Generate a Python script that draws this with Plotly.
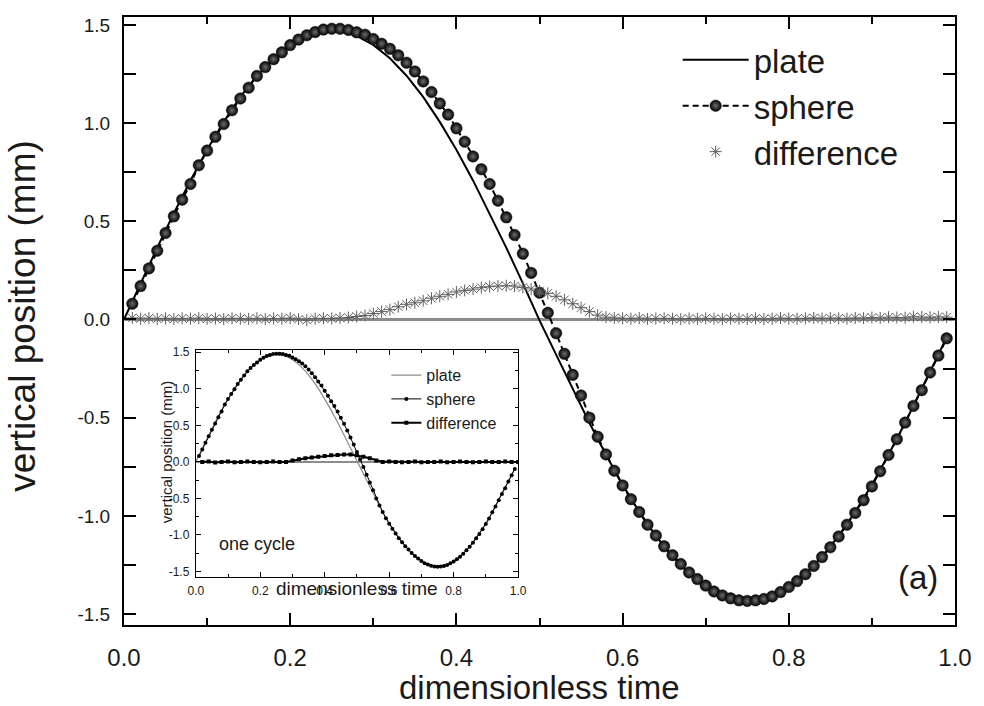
import plotly.graph_objects as go

# ---------------- data ----------------
time_pts = [round(0.01 * k, 2) for k in range(1, 100)]

sphere_mm = [
    0.08, 0.17, 0.26, 0.35, 0.44, 0.525, 0.61, 0.69, 0.785, 0.86,
    0.93, 0.995, 1.065, 1.125, 1.18, 1.24, 1.285, 1.325, 1.36, 1.397,
    1.425, 1.447, 1.463, 1.476, 1.48, 1.48, 1.474, 1.462, 1.45, 1.428,
    1.404, 1.378, 1.345, 1.307, 1.263, 1.212, 1.158, 1.10, 1.043, 0.973,
    0.905, 0.83, 0.765, 0.69, 0.605, 0.52, 0.43, 0.335, 0.237, 0.136,
    0.034, -0.07, -0.175, -0.282, -0.387, -0.50, -0.597, -0.687, -0.77, -0.845,
    -0.915, -0.98, -1.045, -1.10, -1.155, -1.20, -1.245, -1.288, -1.322, -1.355,
    -1.385, -1.405, -1.42, -1.43, -1.433, -1.43, -1.423, -1.41, -1.388, -1.362,
    -1.332, -1.297, -1.255, -1.21, -1.16, -1.105, -1.045, -0.985, -0.92, -0.85,
    -0.773, -0.69, -0.61, -0.525, -0.44, -0.36, -0.27, -0.184, -0.096,
]

difference_mm = [
    0.008, 0.004, 0.007, 0.003, 0.006, 0.002, 0.006, 0.004, 0.007, 0.003,
    0.005, 0.002, 0.006, 0.004, 0.003, 0.006, 0.002, 0.005, 0.004, 0.007,
    0.002, -0.004, 0.004, 0.006, 0.005, 0.008, 0.010, 0.015, 0.020, 0.030,
    0.040, 0.050, 0.065, 0.077, 0.085, 0.095, 0.108, 0.118, 0.128, 0.140,
    0.148, 0.155, 0.162, 0.167, 0.170, 0.172, 0.170, 0.163, 0.155, 0.145,
    0.133, 0.118, 0.100, 0.080, 0.060, 0.040, 0.022, 0.012, 0.008, 0.006,
    0.004, 0.007, 0.003, 0.005, 0.006, 0.004, 0.002, 0.005, 0.003, 0.006,
    0.004, 0.002, 0.005, 0.004, 0.003, 0.006, 0.002, 0.004, 0.007, 0.005,
    0.004, 0.006, 0.008, 0.005, 0.007, 0.006, 0.004, 0.008, 0.007, 0.010,
    0.008, 0.012, 0.010, 0.009, 0.014, 0.012, 0.011, 0.013, 0.012,
]

plate_t = [0.00, 0.02, 0.04, 0.06, 0.08, 0.10, 0.12, 0.14, 0.16, 0.18,
           0.20, 0.22, 0.24, 0.26, 0.28, 0.30, 0.32, 0.34, 0.36, 0.38,
           0.40, 0.42, 0.44, 0.46, 0.48, 0.50, 0.52, 0.54, 0.56, 0.58,
           0.60, 0.62, 0.64, 0.66, 0.68, 0.70, 0.72, 0.74, 0.76, 0.78,
           0.80, 0.82, 0.84, 0.86, 0.88, 0.90, 0.92, 0.94, 0.96, 0.98, 0.99]
plate_mm = [0.0, 0.184, 0.366, 0.541, 0.708, 0.864, 1.006, 1.133, 1.241, 1.330,
            1.398, 1.444, 1.467, 1.467, 1.444, 1.398, 1.330, 1.241, 1.133, 1.006,
            0.864, 0.708, 0.541, 0.366, 0.184, -0.005, -0.179, -0.356, -0.526, -0.689,
            -0.841, -0.979, -1.102, -1.207, -1.294, -1.360, -1.405, -1.427, -1.427, -1.405,
            -1.360, -1.294, -1.207, -1.102, -0.979, -0.841, -0.689, -0.526, -0.356, -0.179, -0.09]

inset_t = [0.02, 0.04, 0.06, 0.08, 0.10, 0.12, 0.14, 0.16, 0.18, 0.20,
           0.22, 0.24, 0.26, 0.28, 0.30, 0.32, 0.34, 0.36, 0.38, 0.40,
           0.42, 0.44, 0.46, 0.48, 0.50, 0.52, 0.54, 0.56, 0.58, 0.60,
           0.62, 0.64, 0.66, 0.68, 0.70, 0.72, 0.74, 0.76, 0.78, 0.80,
           0.82, 0.84, 0.86, 0.88, 0.90, 0.92, 0.94, 0.96, 0.98, 1.00]
inset_diff_mm = [0.0, 0.005, -0.01, 0.0, 0.005, -0.005, 0.0, 0.005, 0.0, -0.005,
                 0.0, 0.005, 0.0, 0.0, 0.02, 0.035, 0.05, 0.06, 0.07, 0.08,
                 0.09, 0.095, 0.10, 0.10, 0.09, 0.07, 0.05, 0.02, 0.0, 0.005,
                 0.0, -0.005, 0.0, 0.005, -0.005, 0.0, 0.0, 0.005, -0.005, 0.0,
                 0.005, 0.0, -0.005, 0.0, 0.005, 0.0, 0.0, 0.005, 0.0, 0.0]

y_ticks = [-1.5, -1.0, -0.5, 0.0, 0.5, 1.0, 1.5]
y_tick_text = ["-1.5", "-1.0", "-0.5", "0.0", "0.5", "1.0", "1.5"]
x_ticks = [0.0, 0.2, 0.4, 0.6, 0.8, 1.0]
x_tick_text = ["0.0", "0.2", "0.4", "0.6", "0.8", "1.0"]

# ---------------- figure ----------------
FONT = "Liberation Sans, Arial, sans-serif"
TXT = "#1a1a1a"

fig = go.Figure()

fig.add_trace(go.Scatter(
    x=plate_t, y=plate_mm, mode="lines", name="plate",
    line=dict(color="black", width=2), legend="legend"))
fig.add_trace(go.Scatter(
    x=time_pts, y=sphere_mm, mode="lines+markers", name="sphere",
    line=dict(color="black", width=2, dash="6px,4px"),
    marker=dict(symbol="circle", size=11.5, color="#030303",
                gradient=dict(type="radial", color="#6c6c6c"),
                line=dict(color="#111111", width=0.5)),
    legend="legend"))
fig.add_trace(go.Scatter(
    x=time_pts, y=difference_mm, mode="markers", name="difference",
    marker=dict(symbol="asterisk-open", size=10, color="#5e5e5e",
                line=dict(color="#5e5e5e", width=1)),
    legend="legend"))

# inset
fig.add_trace(go.Scatter(
    x=plate_t, y=plate_mm, mode="lines", name="plate", xaxis="x2", yaxis="y2",
    line=dict(color="#8a8a8a", width=1.2), legend="legend2"))
fig.add_trace(go.Scatter(
    x=time_pts, y=sphere_mm, mode="lines+markers", name="sphere", xaxis="x2", yaxis="y2",
    line=dict(color="black", width=1), marker=dict(symbol="circle", size=4, color="black"),
    legend="legend2"))
fig.add_trace(go.Scatter(
    x=inset_t, y=inset_diff_mm, mode="lines+markers", name="difference", xaxis="x2", yaxis="y2",
    line=dict(color="black", width=2), marker=dict(symbol="square", size=4, color="black"),
    legend="legend2"))

axis_common = dict(showgrid=False, showline=True, linecolor="black", linewidth=2,
                   mirror="ticks", ticks="inside", tickcolor="black")
inset_common = dict(showgrid=False, showline=True, linecolor="black", linewidth=1,
                    mirror="ticks", ticks="inside", tickcolor="black")


def ann(text, px, py, size, angle=0):
    return dict(text=text, xref="paper", yref="paper",
                x=(px - 124) / 833, y=(625 - py) / 613,
                xanchor="center", yanchor="middle", textangle=angle,
                showarrow=False, font=dict(size=size, family=FONT, color=TXT))


fig.update_layout(
    width=984, height=706,
    margin=dict(l=124, r=27, t=12, b=81),
    paper_bgcolor="white", plot_bgcolor="white",
    font=dict(family=FONT, color=TXT),
    showlegend=True,
    xaxis=dict(range=[0, 1], tickvals=x_ticks, ticktext=x_tick_text,
               ticklen=12, tickwidth=2, zeroline=False,
               minor=dict(dtick=0.1, ticks="inside", ticklen=7, tickcolor="black", tickwidth=2),
               tickfont=dict(size=24, family=FONT, color=TXT), ticklabelstandoff=10,
               **axis_common),
    yaxis=dict(range=[-1.5556, 1.54], tickvals=y_ticks, ticktext=y_tick_text,
               ticklen=12, tickwidth=2,
               minor=dict(dtick=0.25, tick0=0, ticks="inside", ticklen=12, tickcolor="black", tickwidth=2),
               zeroline=True, zerolinecolor="#8c8c8c", zerolinewidth=3,
               tickfont=dict(size=19, family=FONT, color=TXT), ticklabelstandoff=8,
               **axis_common),
    xaxis2=dict(domain=[0.0864, 0.4742], anchor="y2", range=[0, 1],
                tickvals=x_ticks, ticktext=x_tick_text, ticklen=5, tickwidth=1,
                minor=dict(dtick=0.1, ticks="inside", ticklen=3, tickcolor="black"),
                tickfont=dict(size=12, family=FONT, color=TXT), ticklabelstandoff=2,
                zeroline=False, **inset_common),
    yaxis2=dict(domain=[0.0783, 0.4519], anchor="x2", range=[-1.58, 1.527],
                tickvals=y_ticks, ticktext=y_tick_text, ticklen=5, tickwidth=1,
                minor=dict(dtick=0.25, tick0=0, ticks="inside", ticklen=3, tickcolor="black"),
                tickfont=dict(size=12, family=FONT, color=TXT), ticklabelstandoff=3,
                zeroline=True, zerolinecolor="#8c8c8c", zerolinewidth=1.5,
                **inset_common),
    legend=dict(x=(679 - 124) / 833, y=(625 - 27) / 613, xanchor="left", yanchor="top",
                bgcolor="rgba(0,0,0,0)", font=dict(size=33, family=FONT, color=TXT),
                itemwidth=66, tracegroupgap=0),
    legend2=dict(x=(387 - 124) / 833, y=(625 - 356) / 613, xanchor="left", yanchor="top",
                 bgcolor="rgba(0,0,0,0)", font=dict(size=16, family=FONT, color=TXT),
                 itemwidth=30, tracegroupgap=0),
    annotations=[
        ann("vertical position (mm)", 22, 313, 37, -90),
        ann("dimensionless time", 541, 688, 33),
        ann("(a)", 920, 577, 33),
        ann("one cycle", 257, 543, 18),
        ann("dimensionless time", 358, 588, 19),
        ann("vertical position (mm)", 167, 450, 15, -90),
    ],
)

fig.write_html("out.html")
